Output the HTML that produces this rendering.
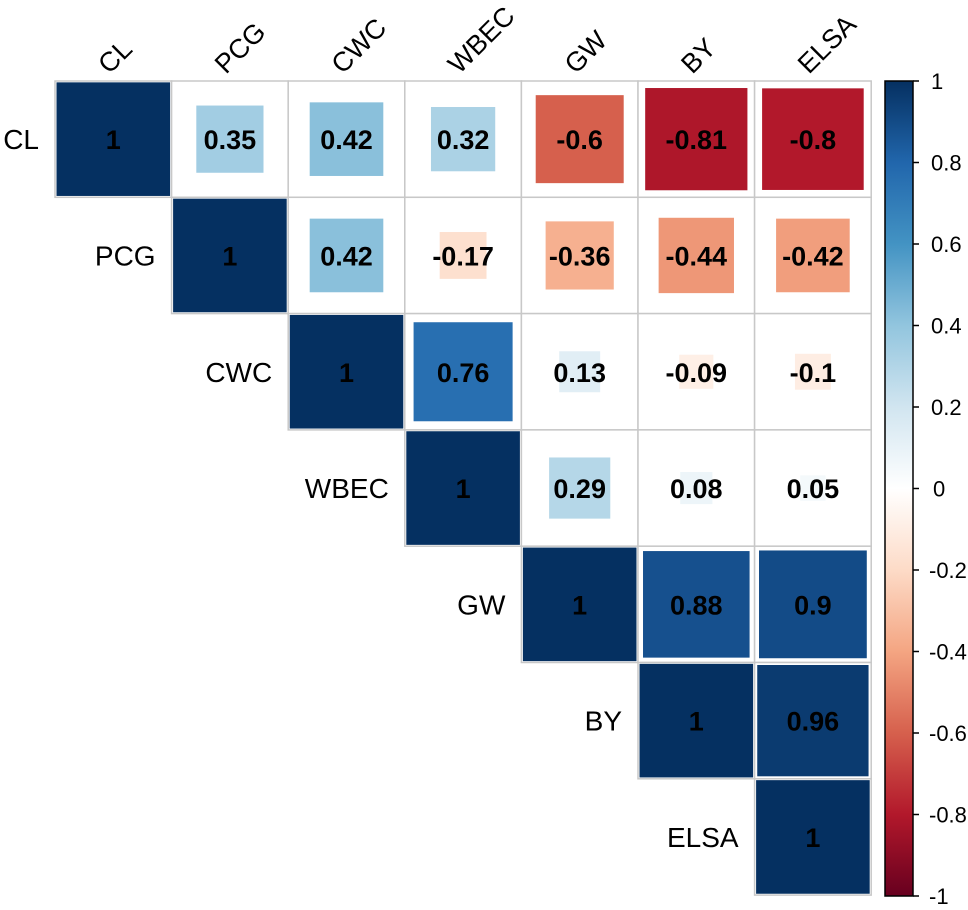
<!DOCTYPE html>
<html><head><meta charset="utf-8"><style>
html,body{margin:0;padding:0;background:#fff;}
svg{display:block;font-family:"Liberation Sans",Arial,sans-serif;}
</style></head><body>
<svg id="chart" width="968" height="910" viewBox="0 0 968 910" xmlns="http://www.w3.org/2000/svg"></svg>
<script>
const variables = ["CL","PCG","CWC","WBEC","GW","BY","ELSA"];
const rowCL   = [1, 0.35, 0.42, 0.32, -0.6, -0.81, -0.8];
const rowPCG  = [null, 1, 0.42, -0.17, -0.36, -0.44, -0.42];
const rowCWC  = [null, null, 1, 0.76, 0.13, -0.09, -0.1];
const rowWBEC = [null, null, null, 1, 0.29, 0.08, 0.05];
const rowGW   = [null, null, null, null, 1, 0.88, 0.9];
const rowBY   = [null, null, null, null, null, 1, 0.96];
const rowELSA = [null, null, null, null, null, null, 1];
const matrix = [rowCL,rowPCG,rowCWC,rowWBEC,rowGW,rowBY,rowELSA];
const colorTicks = [1,0.8,0.6,0.4,0.2,0,-0.2,-0.4,-0.6,-0.8,-1];
const tickLabels = ["1","0.8","0.6","0.4","0.2","0","-0.2","-0.4","-0.6","-0.8","-1"];

const NS="http://www.w3.org/2000/svg";
const svg=document.getElementById('chart');
const gx0=55,gy0=81,cw=116.6,ch=116.3;
const pal=["#67001F","#B2182B","#D6604D","#F4A582","#FDDBC7","#FFFFFF","#D1E5F0","#92C5DE","#4393C3","#2166AC","#053061"];
function hex(h){return [1,3,5].map(i=>parseInt(h.substr(i,2),16));}
function color(v){const t=(v+1)/2*10;const i=Math.min(9,Math.floor(t));const f=t-i;const a=hex(pal[i]),b=hex(pal[i+1]);
 return "rgb("+a.map((c,k)=>Math.round(c+(b[k]-c)*f)).join(",")+")";}
function xs(j){return gx0+j*cw;}
function ys(i){return gy0+i*ch;}
function el(tag,attrs){const e=document.createElementNS(NS,tag);for(const k in attrs)e.setAttribute(k,attrs[k]);svg.appendChild(e);return e;}

matrix.forEach((row,i)=>{row.forEach((v,j)=>{
  if(v===null)return;
  const cell=el('rect',{x:xs(j),y:ys(i),width:cw,height:ch,fill:'#fff',stroke:'#c8c8c8','stroke-width':1.5});
  
  
  const s=(Math.sqrt(Math.abs(v))*(cw-3));
  const sq=el('rect',{x:xs(j)+cw/2-s/2,y:ys(i)+ch/2-s/2,width:s,height:s,fill:color(v)});
  
  
  const t=el('text',{x:xs(j)+cw/2,y:ys(i)+ch/2+10,'text-anchor':'middle','font-size':27,'font-weight':'bold',fill:'#000'});
  t.textContent=String(v);
  
  
});});

variables.forEach((name,i)=>{
  const r=el('text',{x:xs(i)-16,y:ys(i)+ch/2+10,'text-anchor':'end','font-size':28,fill:'#000'});
  r.textContent=name;
  
  
  const cx=xs(i)+cw/2-4,cy=gy0-6;
  const c=el('text',{x:cx,y:cy,'font-size':27,fill:'#000',transform:'rotate(-45 '+cx+' '+cy+')'});
  c.textContent=name;
  
  
});

const cbx=885,cbw=28,cbTop=81,cbBot=896;
function cy(v){return cbBot-(v+1)/2*(cbBot-cbTop);}
const defs=el('defs',{});
const lg=document.createElementNS(NS,'linearGradient');
lg.setAttribute('id','cbgrad');lg.setAttribute('x1','0');lg.setAttribute('y1','1');lg.setAttribute('x2','0');lg.setAttribute('y2','0');
defs.appendChild(lg);
pal.forEach((c,k)=>{const s=document.createElementNS(NS,'stop');s.setAttribute('offset',(k/10));s.setAttribute('stop-color',c);lg.appendChild(s);});
const bar=el('rect',{x:cbx,y:cbTop,width:cbw,height:cbBot-cbTop,fill:'url(#cbgrad)',stroke:'#000','stroke-width':1.5});


colorTicks.forEach((v,k)=>{
  const tk=el('line',{x1:cbx+cbw,x2:cbx+cbw+6,y1:cy(v),y2:cy(v),stroke:'#000','stroke-width':1.5});
  
  
  const t=el('text',{x:cbx+cbw+(v<0?16:(v===0?20:18)),y:cy(v)+8,'font-size':22,fill:'#000'});
  t.textContent=tickLabels[k];
  
  
});
</script>
</body></html>
